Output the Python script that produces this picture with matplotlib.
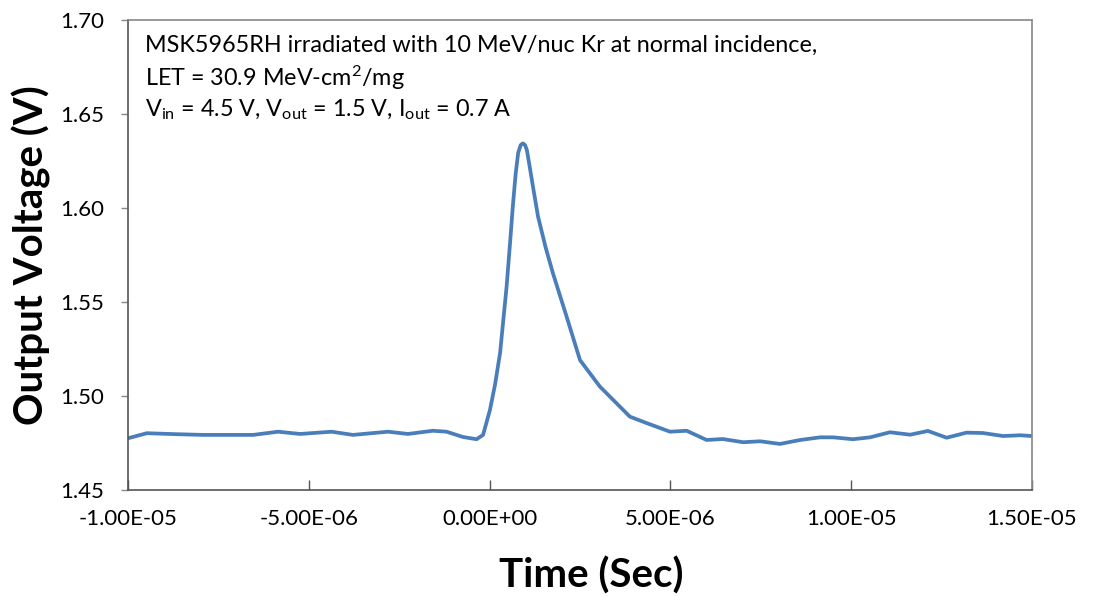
import numpy as np
import matplotlib.pyplot as plt
from matplotlib.ticker import FuncFormatter, MultipleLocator

plt.rcParams.update({
    'font.family': ['Lato', 'DejaVu Sans'],
    'mathtext.fontset': 'custom', 'mathtext.rm': 'Lato', 'mathtext.it': 'Lato',
    'mathtext.default': 'regular',
})

# time in microseconds, output voltage in volts
t_us = [-10.0, -9.48, -8.7, -7.93, -7.2, -6.54, -5.85, -5.24, -4.37, -3.78,
        -2.81, -2.26, -1.57, -1.19, -0.74, -0.36, -0.18, 0.01, 0.15, 0.29,
        0.47, 0.56, 0.65, 0.72, 0.79, 0.86, 0.92, 0.98, 1.03, 1.10, 1.20,
        1.34, 1.55, 1.75, 2.13, 2.50, 3.05, 3.88, 4.34, 4.99, 5.45, 6.00,
        6.45, 7.01, 7.48, 8.03, 8.59, 9.14, 9.50, 10.05, 10.52, 11.07, 11.63,
        12.12, 12.64, 13.19, 13.64, 14.20, 14.67, 15.0]
v_out = [1.4775, 1.4802, 1.4797, 1.4793, 1.4793, 1.4793, 1.4810, 1.4798,
         1.4810, 1.4793, 1.4810, 1.4798, 1.4815, 1.4810, 1.4782, 1.4770,
         1.4793, 1.4926, 1.5060, 1.5229, 1.5581, 1.5800, 1.6027, 1.6180,
         1.6293, 1.6335, 1.6344, 1.6335, 1.6309, 1.6230, 1.6113, 1.5954,
         1.5790, 1.5654, 1.5422, 1.5191, 1.5050, 1.4890, 1.4856, 1.4810,
         1.4815, 1.4766, 1.4771, 1.4754, 1.4759, 1.4745, 1.4766, 1.4780,
         1.4780, 1.4770, 1.4780, 1.4807, 1.4794, 1.4814, 1.4778, 1.4805,
         1.4803, 1.4787, 1.4791, 1.4787]

note = ('MSK5965RH irradiated with 10 MeV/nuc Kr at normal incidence,\n'
        'LET = 30.9 MeV-cm$^{2}$/mg\n'
        'V$_{in}$ = 4.5 V, V$_{out}$ = 1.5 V, I$_{out}$ = 0.7 A')

t = np.array(t_us) * 1e-6

fig = plt.figure(figsize=(11.11, 5.96), dpi=100)
ax = fig.add_axes([0.1152, 0.1779, 0.8137, 0.7885])
ax.plot(t, v_out, color='#4a7ebb', lw=2.7, solid_capstyle='round',
        solid_joinstyle='round')

ax.set_xlim(-1e-5, 1.5e-5)
ax.set_ylim(1.45, 1.70)
ax.xaxis.set_major_locator(MultipleLocator(5e-6))
ax.yaxis.set_major_locator(MultipleLocator(0.05))
ax.xaxis.set_major_formatter(FuncFormatter(lambda v, p: f'{v:.2E}'))
ax.yaxis.set_major_formatter(FuncFormatter(lambda v, p: f'{v:.2f}'))
ax.tick_params(axis='x', direction='in', length=7, width=1, color='#555555',
               labelsize=16, pad=14)
ax.tick_params(axis='y', direction='out', length=5, width=1, color='#888888',
               labelsize=16, pad=12)
for s in ['top', 'right']:
    ax.spines[s].set_color('#888888')
for s in ['left', 'bottom']:
    ax.spines[s].set_color('#555555')
for s in ax.spines.values():
    s.set_linewidth(1.2)

ax.set_xlabel('Time (Sec)', fontsize=29, fontweight='bold')
ax.set_ylabel('Output Voltage (V)', fontsize=29, fontweight='bold')
ax.xaxis.set_label_coords(0.513, -0.141)
ax.yaxis.set_label_coords(-0.085, 0.5)
ax.text(0.019, 0.968, note, transform=ax.transAxes, va='top', ha='left',
        fontsize=16.8, linespacing=1.33)

plt.savefig('out.png', dpi=100)
